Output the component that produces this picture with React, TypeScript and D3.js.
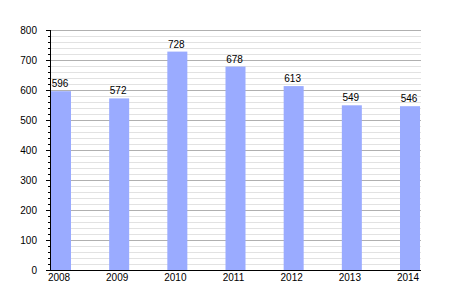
import React from "react";
import * as d3 from "d3";

const years = ["2008", "2009", "2010", "2011", "2012", "2013", "2014"];
const values = [596, 572, 728, 678, 613, 549, 546];
const majorTicks = [0, 100, 200, 300, 400, 500, 600, 700, 800];

const W = 450;
const H = 300;
const left = 51;
const right = 421;
const top = 30;
const bottom = 270;
const barW = 20;

export default function App() {
  const y = d3.scaleLinear().domain([0, 800]).range([bottom, top]);
  const x = d3.scalePoint<string>().domain(years).range([61, 410]);
  const minor = d3.range(0, 801, 20).filter((v) => v % 100 !== 0);
  return (
    <svg width={W} height={H} style={{ position: "absolute", left: 0, top: 0, background: "#fff" }}
      fontFamily="'Liberation Sans', Arial, sans-serif" fontSize={10}>
      {minor.map((v) => (
        <line key={"m" + v} x1={left} x2={right} y1={Math.round(y(v)) + 0.5} y2={Math.round(y(v)) + 0.5} stroke="#e2e2e2" />
      ))}
      {majorTicks.map((v) => (
        <line key={"M" + v} x1={left} x2={right} y1={Math.round(y(v)) + 0.5} y2={Math.round(y(v)) + 0.5} stroke="#b0b0b0" />
      ))}
      {years.map((yr, i) => (
        <rect key={yr} x={(x(yr) as number) - barW / 2} y={y(values[i])} width={barW} height={bottom - y(values[i])} fill="#9aabff" />
      ))}
      {years.map((yr, i) => (
        <text key={"v" + yr} x={(x(yr) as number) - 1} y={y(values[i]) - 4} textAnchor="middle" fill="#000">{values[i]}</text>
      ))}
      <line x1={left - 0.5} x2={left - 0.5} y1={top} y2={bottom + 0.5} stroke="#000" />
      <line x1={left - 0.5} x2={right} y1={bottom + 0.5} y2={bottom + 0.5} stroke="#000" />
      {minor.map((v) => (
        <line key={"mt" + v} x1={left - 3} x2={left} y1={Math.round(y(v)) + 0.5} y2={Math.round(y(v)) + 0.5} stroke="#000" />
      ))}
      {majorTicks.map((v) => (
        <g key={"t" + v}>
          <line x1={left - 5} x2={left} y1={Math.round(y(v)) + 0.5} y2={Math.round(y(v)) + 0.5} stroke="#000" />
          <text x={37} y={y(v) + 3.5} textAnchor="end" fill="#000">{v}</text>
        </g>
      ))}
      {years.map((yr) => (
        <text key={"x" + yr} x={(x(yr) as number) - 2} y={281} textAnchor="middle" fill="#000">{yr}</text>
      ))}
    </svg>
  );
}
